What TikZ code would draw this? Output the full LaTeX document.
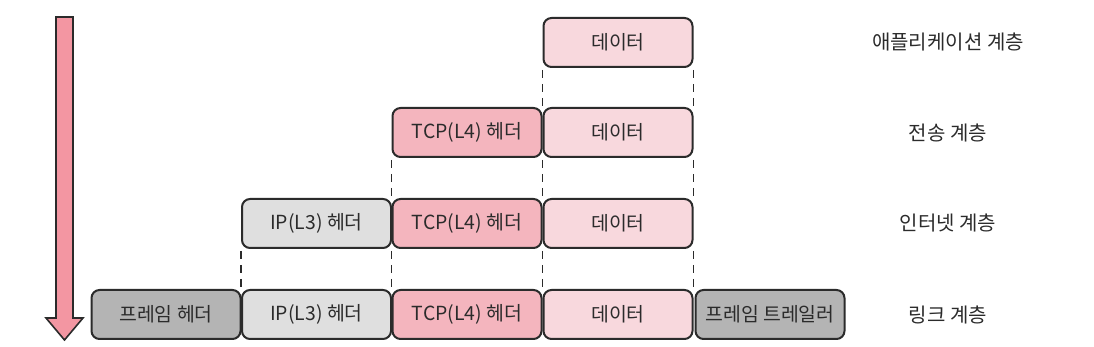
\documentclass[tikz,border=0pt]{standalone}
\usepackage{fontspec}
\setmainfont{Noto Sans CJK KR}
\usepackage{xcolor}
\usepackage{tikz}
\usetikzlibrary{arrows.meta,calc,positioning}
\definecolor{ink}{HTML}{2B2B2B}
\definecolor{datafill}{HTML}{F8D8DD}
\definecolor{tcpfill}{HTML}{F4B5BE}
\definecolor{ipfill}{HTML}{DFDFDF}
\definecolor{framefill}{HTML}{B4B4B4}
\definecolor{arrowfill}{HTML}{F396A2}
\tikzset{
  every node/.style={font=\fontsize{9.7pt}{12pt}\selectfont,text=ink},
  pkt/.style={rounded corners=4pt,draw=ink,line width=1pt,minimum width=74.5pt,minimum height=24.5pt,inner sep=0pt},
  data/.style={pkt,fill=datafill},
  tcp/.style={pkt,fill=tcpfill},
  ip/.style={pkt,fill=ipfill},
  frm/.style={pkt,fill=framefill},
  guide/.style={ink,line width=0.9pt,dash pattern=on 4pt off 3pt},
  layer/.style={font=\fontsize{10pt}{12pt}\selectfont},
}
\begin{document}
\begin{tikzpicture}[x=0.5pt,y=-0.5pt]
  \useasboundingbox (0,0) rectangle (1094,347);
  % down arrow
  \draw[ink,line width=0.8pt,fill=arrowfill] (56,17) -- (73,17) -- (73,318) -- (83,318) -- (64.5,340) -- (46,318) -- (56,318) -- cycle;
  % application
  \node[data] (d1) at (618,42.5) {데이터};
  % transport
  \node[tcp] (t2) at (467,132.5) {TCP(L4) 헤더};
  \node[data] (d2) at (618,132.5) {데이터};
  % internet
  \node[ip] (i3) at (316.5,223.5) {IP(L3) 헤더};
  \node[tcp] (t3) at (467,223.5) {TCP(L4) 헤더};
  \node[data] (d3) at (618,223.5) {데이터};
  % link
  \node[frm] (fh) at (166,314.5) {프레임 헤더};
  \node[ip] (i4) at (316.5,314.5) {IP(L3) 헤더};
  \node[tcp] (t4) at (467,314.5) {TCP(L4) 헤더};
  \node[data] (d4) at (618,314.5) {데이터};
  \node[frm] (ft) at (770,314.5) {프레임 트레일러};
  % guides
  \draw[guide] ([yshift=-1pt]d1.south west) -- (d2.north west);
  \draw[guide] ([yshift=-1pt]d1.south east) -- (d2.north east);
  \foreach \a/\b in {t2/t3,d2/d3,i3/i4,t3/t4,d3/d4}
    \draw[guide] ([yshift=-1pt]\a.south west) -- (\b.north west);
  \foreach \a/\b in {d2/d3,d3/d4}
    \draw[guide] ([yshift=-1pt]\a.south east) -- (\b.north east);
  % layer names
  \node[layer] (l1) at (948,42.5) {애플리케이션 계층};
  \node[layer] (l2) at (948,132.5) {전송 계층};
  \node[layer] (l3) at (948,223.5) {인터넷 계층};
  \node[layer] (l4) at (948,314.5) {링크 계층};
\end{tikzpicture}
\end{document}
